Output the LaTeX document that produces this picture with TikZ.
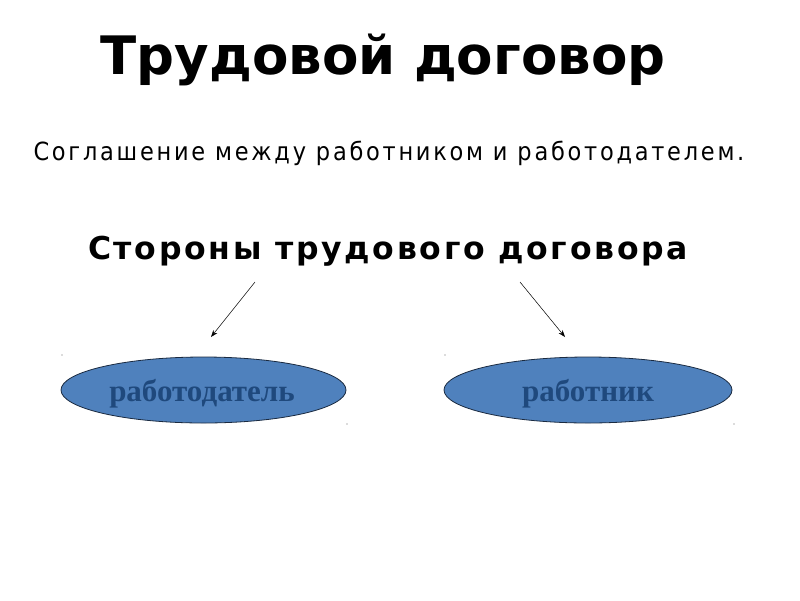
\documentclass[tikz,border=0pt]{standalone}
\usepackage{fontspec}
\setmainfont{DejaVu Sans}
\newfontfamily\condfont{DejaVu Sans Condensed}[LetterSpace=11]
\newfontfamily\sidesfont{DejaVu Sans Bold}[LetterSpace=8.5]
\newfontfamily\serifbold{Liberation Serif}[BoldFont={Liberation Serif Bold}]
\usetikzlibrary{shapes.geometric,arrows.meta}
\definecolor{ellfill}{HTML}{4F81BD}
\definecolor{elltext}{HTML}{1F497D}
\definecolor{ellborder}{HTML}{1A2A40}
\begin{document}
\begin{tikzpicture}[x=1pt,y=-1pt,
  party/.style={ellipse, draw=ellborder, line width=0.8pt, fill=ellfill, inner sep=0pt,
    text=elltext, font=\serifbold\bfseries\fontsize{31}{34}\selectfont},
  link/.style={draw=black, line width=0.5pt, -{Stealth[length=7pt,width=5pt]}},
  speck/.style={fill=black!60, circle, inner sep=0pt, minimum size=1.2pt}]
\useasboundingbox (0,0) rectangle (800,600);
\node (title) at (383,60) {\bfseries\fontsize{53}{60}\selectfont Трудовой договор};
\node (def) at (389,153) {\condfont\fontsize{25}{30}\selectfont Соглашение между работником и работодателем.};
\node (sides) at (388,251) {\sidesfont\fontsize{31.5}{36}\selectfont Стороны трудового договора};
\coordinate (a1s) at (255,282);
\coordinate (a1e) at (211,337);
\coordinate (a2s) at (520,282);
\coordinate (a2e) at (565,337);
\draw[link] (a1s) -- (a1e);
\draw[link] (a2s) -- (a2e);
\node[party, minimum width=285pt, minimum height=66pt] (employer) at (203.5,390) {};
\node[party, minimum width=288pt, minimum height=66pt] (employee) at (588,390) {};
\node[party, draw=none, fill=none] (employerlabel) at (202,394) {работодатель};
\node[party, draw=none, fill=none] (employeelabel) at (588,394) {работник};
\node[speck] (s1) at (62,355) {};
\node[speck] (s2) at (347,424) {};
\node[speck] (s3) at (445,355) {};
\node[speck] (s4) at (734,424) {};
\end{tikzpicture}
\end{document}
